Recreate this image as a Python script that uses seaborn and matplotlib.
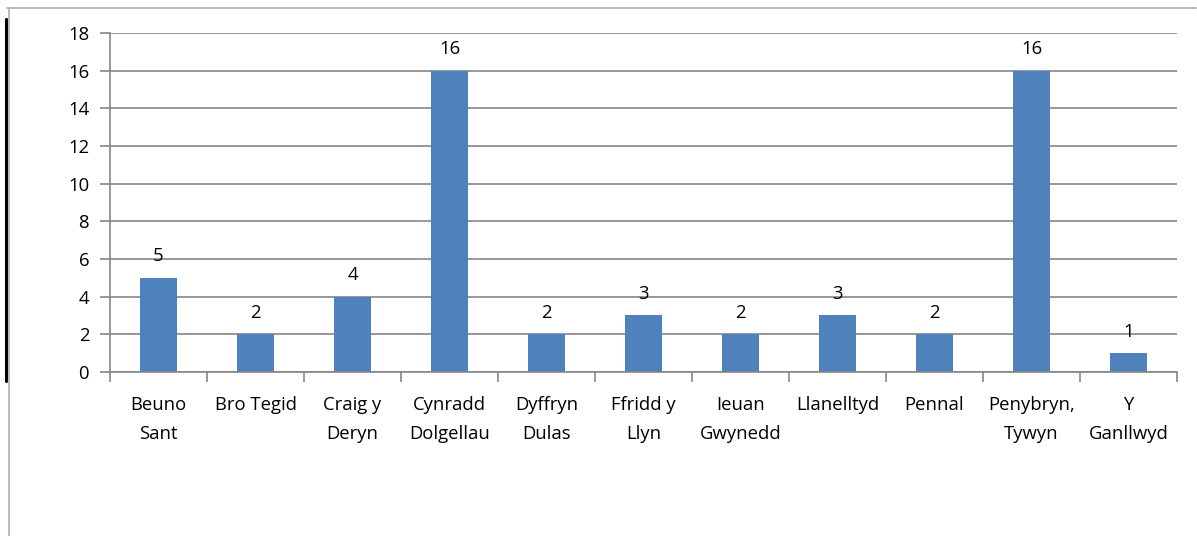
import matplotlib
matplotlib.use("Agg")
import matplotlib.pyplot as plt
from matplotlib.lines import Line2D
import seaborn as sns
import pandas as pd

schools = ["Beuno\nSant", "Bro Tegid", "Craig y\nDeryn", "Cynradd\nDolgellau", "Dyffryn\nDulas",
           "Ffridd y\nLlyn", "Ieuan\nGwynedd", "Llanelltyd", "Pennal", "Penybryn,\nTywyn", "Y\nGanllwyd"]
counts = [5, 2, 4, 16, 2, 3, 2, 3, 2, 16, 1]

df = pd.DataFrame({"school": schools, "count": counts})

sns.set_style("white")
plt.rcParams["font.family"] = ["Open Sans", "DejaVu Sans"]
plt.rcParams["text.color"] = "black"
plt.rcParams["xtick.color"] = "black"
plt.rcParams["ytick.color"] = "black"

fig = plt.figure(figsize=(11.97, 5.36), dpi=100)
ax = fig.add_axes([0.0919, 0.306, 0.8914, 0.6324])

sns.barplot(data=df, x="school", y="count", color="#4F81BD", saturation=1, width=0.39,
            edgecolor="none", linewidth=0, ax=ax)

ax.set_ylim(0, 18)
ax.set_xlim(-0.5, len(schools) - 0.5)
ax.set_yticks(range(0, 19, 2))
ax.yaxis.grid(True, color="#868686", linewidth=1.2)
ax.set_axisbelow(True)
for s in ["top", "right"]:
    ax.spines[s].set_visible(False)
for s in ["left", "bottom"]:
    ax.spines[s].set_color("#868686")
    ax.spines[s].set_linewidth(1.2)

# category boundary ticks like Excel
ax.set_xticks([i - 0.5 for i in range(len(schools) + 1)], minor=True)
ax.tick_params(axis="x", which="minor", bottom=True, length=7, color="#868686", width=1.2)
ax.tick_params(axis="x", which="major", bottom=False, length=0, pad=17, labelsize=13.3)
ax.tick_params(axis="y", left=True, length=7, color="#868686", width=1.2, labelsize=13.3, pad=8)
ax.set_xticklabels(schools, linespacing=1.85)
ax.set_xlabel("")
ax.set_ylabel("")

for i, v in enumerate(counts):
    ax.annotate(str(v), (i, v), xytext=(0, 9), textcoords="offset points",
                ha="center", va="bottom", fontsize=13.3)

# outer chart frame
fig.add_artist(Line2D([0.0058, 0.9992], [0.985, 0.985], color="#b0b0b0", linewidth=1.2, transform=fig.transFigure))
fig.add_artist(Line2D([0.0075, 0.0075], [0.0, 0.985], color="#b0b0b0", linewidth=1.2, transform=fig.transFigure))
fig.add_artist(Line2D([0.0052, 0.0052], [0.29, 0.965], color="black", linewidth=2.2, transform=fig.transFigure))

fig.savefig("out.png", dpi=100)
